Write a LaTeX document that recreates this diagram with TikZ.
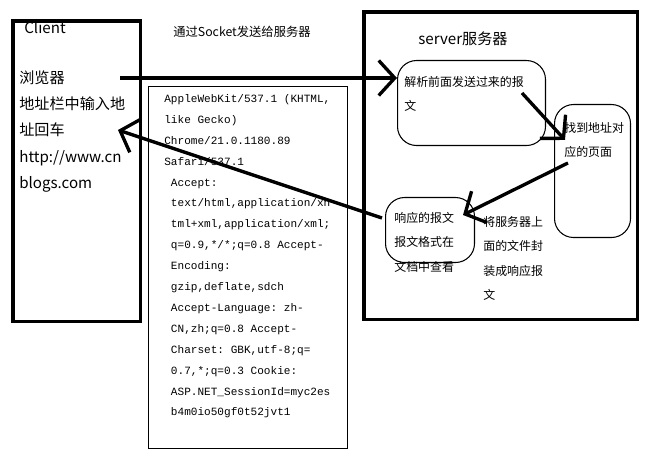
\documentclass[tikz,border=0pt]{standalone}
\usepackage{fontspec}
\setmainfont{Noto Sans CJK SC}
\newfontfamily\codefont{Liberation Mono}
\usetikzlibrary{positioning, arrows.meta}

\tikzset{
  blackbox/.style={draw, line width=2pt, anchor=north west},
  thinbox/.style={draw, line width=0.7pt, anchor=north west},
  roundbox/.style={draw, line width=0.6pt, rounded corners=0.38cm, anchor=north west},
  words/.style={anchor=north west, align=left, inner sep=0pt},
  bigwords/.style={words, font=\fontsize{8.6}{15}\selectfont},
  smallwords/.style={words, font=\fontsize{6.8}{13.9}\selectfont},
  flow/.style={line width=1.9pt, -{Straight Barb[length=0.32cm, width=0.7cm]}}
}

\begin{document}
\frenchspacing
\begin{tikzpicture}[x=0.02cm, y=-0.02cm]
  \useasboundingbox (0,0) rectangle (654,456);

  % client side
  \node[blackbox, minimum width=2.56cm, minimum height=6.02cm] (client) at (11,19) {};
  \node[bigwords] (clientname) at (24,21) {Client};
  \node[bigwords] (browser) at (19,70) {浏览器\\地址栏中输入地\\址回车\\http://www.cn\\blogs.com};

  \node[words, font=\fontsize{7}{9}\selectfont] (socket) at (173,26) {通过Socket发送给服务器};

  % request message
  \node[thinbox, minimum width=3.98cm, minimum height=7.24cm] (request) at (148,86) {};
  \node[words, font=\codefont\fontsize{6.3}{11.9}\selectfont] (header) at (164,94) {AppleWebKit/537.1 (KHTML,\\like Gecko)\\Chrome/21.0.1180.89\\Safari/537.1\\
    \ Accept:\\
    \ text/html,application/xh\\
    \ tml+xml,application/xml;\\
    \ q=0.9,*/*;q=0.8 Accept-\\
    \ Encoding:\\
    \ gzip,deflate,sdch\\
    \ Accept-Language: zh-\\
    \ CN,zh;q=0.8 Accept-\\
    \ Charset: GBK,utf-8;q=\\
    \ 0.7,*;q=0.3 Cookie:\\
    \ ASP.NET\_SessionId=myc2es\\
    \ b4m0io50gf0t52jvt1};

  % server side
  \node[blackbox, minimum width=5.48cm, minimum height=6.16cm] (server) at (362,10) {};
  \node[bigwords] (servername) at (418,31) {server服务器};
  \node[roundbox, minimum width=2.96cm, minimum height=1.7cm] (parse) at (397,60) {};
  \node[smallwords] (parsetext) at (404,76) {解析前面发送过来的报\\文};
  \node[roundbox, minimum width=1.52cm, minimum height=2.66cm] (find) at (554,104) {};
  \node[smallwords] (findtext) at (564,122) {找到地址对\\应的页面};
  \node[roundbox, minimum width=1.78cm, minimum height=1.3cm] (reply) at (385,197) {};
  \node[smallwords] (replytext) at (394,212) {响应的报文\\报文格式在\\文档中查看};
  \node[smallwords] (packtext) at (483,216) {将服务器上\\面的文件封\\装成响应报\\文};

  % connectors
  \coordinate (sendstart) at (120,78);
  \coordinate (parseout) at (522,93);
  \coordinate (findin) at (565,140);
  \coordinate (findout) at (568,163);
  \coordinate (replyin) at (463,215);
  \coordinate (replyout) at (382,218);
  \coordinate (clientin) at (118,130);

  \draw[flow] (sendstart) -- (sendstart -| parse.west);
  \draw[flow] (parseout) -- (findin);
  \draw[flow] (findout) -- (replyin);
  \draw[flow] (replyout) -- (clientin);
\end{tikzpicture}
\end{document}
